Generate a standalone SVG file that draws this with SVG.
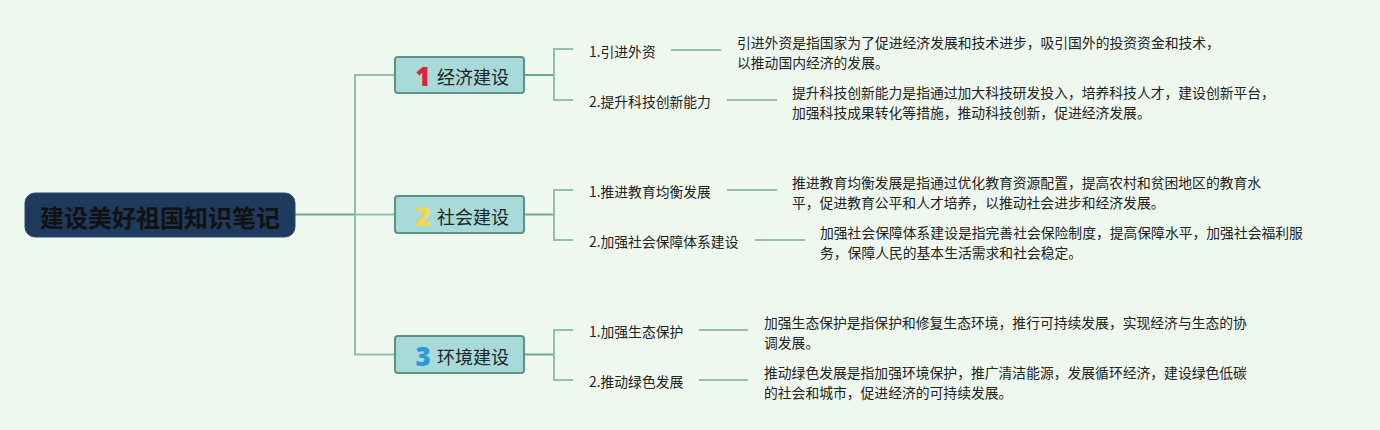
<svg xmlns="http://www.w3.org/2000/svg" width="1380" height="430" viewBox="0 0 1380 430">
<style>
.bg{fill:#eef8ef}
.ln{stroke:#8fc2a8;stroke-width:2;fill:none}
.ln2{stroke:#6fa595;stroke-width:2;fill:none}
.root{fill:#1f3a5c;stroke:#2b4a70;stroke-width:1}
.roott{font-family:"Noto Sans CJK SC","Noto Sans",sans-serif;font-size:24px;font-weight:bold;fill:#111}
.br{fill:#a8dada;stroke:#5b9484;stroke-width:2}
.brt{font-family:"Noto Sans CJK SC","Noto Sans",sans-serif;font-size:18px;fill:#222}
.num{font-family:"Noto Sans","Liberation Sans",sans-serif;font-size:26px;font-weight:900}
.lf{font-family:"Noto Sans CJK SC","Noto Sans",sans-serif;font-size:13.8px;fill:#222}
.ds{font-family:"Noto Sans CJK SC","Noto Sans",sans-serif;font-size:13.8px;fill:#222}
</style>
<rect class="bg" x="0" y="0" width="1380" height="430"/>
<g id="connectors">
<path class="ln2" d="M295 214.5 H355"/>
<path class="ln" d="M395 75 H355 V354.5 H395 M355 214.5 H395"/>
<path class="ln2" d="M524 75 H554 M524 214.5 H554 M524 354.5 H554"/>
<path class="ln" d="M573 49 H554 V100 H573"/>
<path class="ln" d="M573 190 H554 V240 H573"/>
<path class="ln" d="M573 330 H554 V380 H573"/>
<path class="ln" d="M671 50 H721 M727 100 H777"/>
<path class="ln" d="M727 190 H777 M755 240 H805"/>
<path class="ln" d="M699 330 H748 M699 380 H748"/>
</g>
<g id="root">
<rect class="root" x="25" y="193" width="270" height="44" rx="10"/>
<text class="roott" x="160" y="216" text-anchor="middle" dominant-baseline="central">建设美好祖国知识笔记</text>
</g>
<g id="b1">
<rect class="br" x="395" y="57" width="129" height="36" rx="3"/>
<text class="num" x="423" y="76" text-anchor="middle" dominant-baseline="central" fill="#e0203c">1</text>
<text class="brt" x="437" y="76" dominant-baseline="central">经济建设</text>
</g>
<g id="b2">
<rect class="br" x="395" y="196" width="129" height="37" rx="3"/>
<text class="num" x="423" y="215.5" text-anchor="middle" dominant-baseline="central" fill="#f5d64c">2</text>
<text class="brt" x="437" y="215.5" dominant-baseline="central">社会建设</text>
</g>
<g id="b3">
<rect class="br" x="395" y="336" width="129" height="37" rx="3"/>
<text class="num" x="423" y="355.5" text-anchor="middle" dominant-baseline="central" fill="#2a9ad6">3</text>
<text class="brt" x="437" y="355.5" dominant-baseline="central">环境建设</text>
</g>
<g id="l11">
<text class="lf" x="589" y="51" dominant-baseline="central">1.引进外资</text>
<text class="ds" x="737" y="42" dominant-baseline="central">引进外资是指国家为了促进经济发展和技术进步，吸引国外的投资资金和技术，</text>
<text class="ds" x="737" y="62" dominant-baseline="central">以推动国内经济的发展。</text>
</g>
<g id="l12">
<text class="lf" x="589" y="101" dominant-baseline="central">2.提升科技创新能力</text>
<text class="ds" x="792" y="92" dominant-baseline="central">提升科技创新能力是指通过加大科技研发投入，培养科技人才，建设创新平台，</text>
<text class="ds" x="792" y="112" dominant-baseline="central">加强科技成果转化等措施，推动科技创新，促进经济发展。</text>
</g>
<g id="l21">
<text class="lf" x="589" y="191" dominant-baseline="central">1.推进教育均衡发展</text>
<text class="ds" x="792" y="182" dominant-baseline="central">推进教育均衡发展是指通过优化教育资源配置，提高农村和贫困地区的教育水</text>
<text class="ds" x="792" y="202" dominant-baseline="central">平，促进教育公平和人才培养，以推动社会进步和经济发展。</text>
</g>
<g id="l22">
<text class="lf" x="589" y="241" dominant-baseline="central">2.加强社会保障体系建设</text>
<text class="ds" x="820" y="232" dominant-baseline="central">加强社会保障体系建设是指完善社会保险制度，提高保障水平，加强社会福利服</text>
<text class="ds" x="820" y="252" dominant-baseline="central">务，保障人民的基本生活需求和社会稳定。</text>
</g>
<g id="l31">
<text class="lf" x="589" y="331" dominant-baseline="central">1.加强生态保护</text>
<text class="ds" x="764" y="322" dominant-baseline="central">加强生态保护是指保护和修复生态环境，推行可持续发展，实现经济与生态的协</text>
<text class="ds" x="764" y="342" dominant-baseline="central">调发展。</text>
</g>
<g id="l32">
<text class="lf" x="589" y="381" dominant-baseline="central">2.推动绿色发展</text>
<text class="ds" x="764" y="372" dominant-baseline="central">推动绿色发展是指加强环境保护，推广清洁能源，发展循环经济，建设绿色低碳</text>
<text class="ds" x="764" y="392" dominant-baseline="central">的社会和城市，促进经济的可持续发展。</text>
</g>
</svg>
